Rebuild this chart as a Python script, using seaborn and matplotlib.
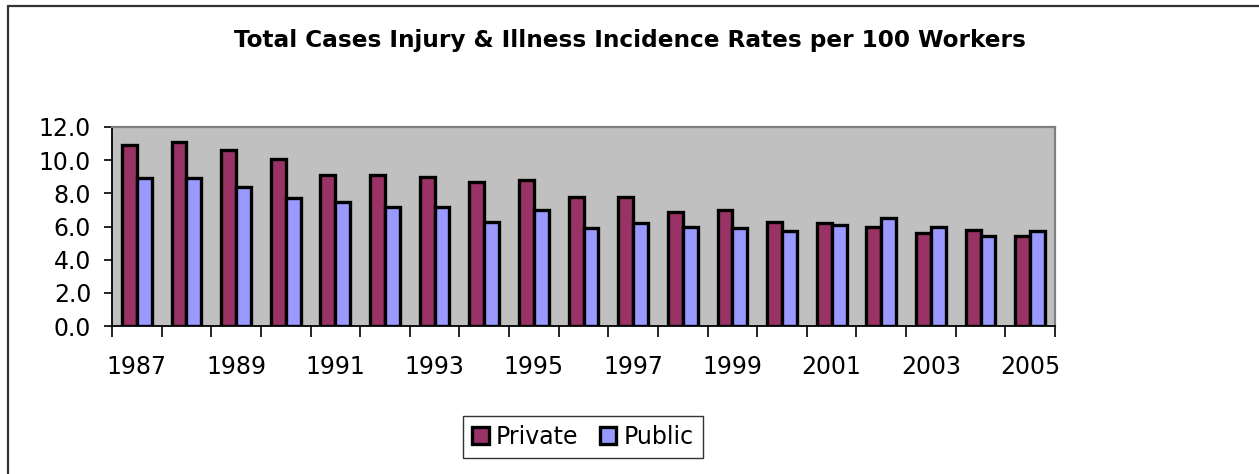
import matplotlib
matplotlib.use('Agg')
import matplotlib.pyplot as plt
from matplotlib.lines import Line2D
from matplotlib.patches import Patch
import numpy as np
import pandas as pd
import seaborn as sns

years = [str(y) for y in range(1987, 2006)]
private_rates = [10.9, 11.1, 10.6, 10.1, 9.1, 9.1, 9.0, 8.7, 8.8, 7.8,
                 7.8, 6.9, 7.0, 6.3, 6.2, 6.0, 5.6, 5.8, 5.4]
public_rates = [8.9, 8.9, 8.4, 7.7, 7.5, 7.2, 7.2, 6.3, 7.0, 5.9,
                6.2, 6.0, 5.9, 5.7, 6.1, 6.5, 6.0, 5.4, 5.7]
series_names = ['Private', 'Public']
series_colors = ['#993366', '#9999FF']
title = 'Total Cases Injury & Illness Incidence Rates per 100 Workers'

df = pd.DataFrame({
    'Year': years * 2,
    'Rate': private_rates + public_rates,
    'Sector': [series_names[0]] * len(years) + [series_names[1]] * len(years),
})

sns.set_style('white')
plt.rcParams['font.family'] = ['DejaVu Sans']
plt.rcParams['text.color'] = 'black'
plt.rcParams['xtick.labelcolor'] = 'black'
plt.rcParams['ytick.labelcolor'] = 'black'

W, H = 1259, 474
fig = plt.figure(figsize=(W / 100, H / 100), dpi=100)
ax = fig.add_axes([112 / W, 1 - 326 / H, (1055 - 112) / W, (326 - 127) / H])
ax.set_facecolor('#C0C0C0')

sns.barplot(data=df, x='Year', y='Rate', hue='Sector', order=years,
            hue_order=series_names, palette=series_colors, saturation=1,
            width=0.6, edgecolor='black', linewidth=2.4, legend=False, ax=ax)

ax.set_xlim(-0.5, len(years) - 0.5)
ax.set_ylim(0, 12)
ax.set_xlabel('')
ax.set_ylabel('')

# tick marks between categories, labels on every other year
ax.set_xticks(np.arange(-0.5, len(years), 1.0))
ax.set_xticklabels([])
ax.tick_params(axis='x', which='major', direction='out', length=8, width=1.2,
               color='black', bottom=True)
ax.set_xticks(np.arange(0, len(years), 2), minor=True)
ax.set_xticklabels(years[::2], minor=True)
ax.tick_params(axis='x', which='minor', length=0, pad=21, labelsize=17,
               labelcolor='black')

ax.set_yticks(np.arange(0, 13, 2))
ax.set_yticklabels([f'{v:.1f}' for v in np.arange(0, 13, 2)])
ax.tick_params(axis='y', direction='out', length=6, width=1.2, color='black',
               left=True, pad=9, labelsize=17, labelcolor='black')

for side in ['left', 'bottom']:
    ax.spines[side].set_color('black')
    ax.spines[side].set_linewidth(1.3)
for side in ['top', 'right']:
    ax.spines[side].set_color('#808080')
    ax.spines[side].set_linewidth(1.6)

fig.text(630 / W, 1 - 40 / H, title, ha='center', va='center',
         fontsize=16.7, fontweight='bold', color='black')

handles = [Patch(facecolor=c, edgecolor='black', linewidth=2.4) for c in series_colors]
leg = fig.legend(handles, series_names, loc='center', bbox_to_anchor=(583 / W, 1 - 437 / H),
                 ncol=2, frameon=True, fancybox=False, fontsize=17,
                 handlelength=0.7, handleheight=0.7, handletextpad=0.3,
                 columnspacing=0.9, borderpad=0.4, borderaxespad=0)
leg.get_frame().set_edgecolor('black')
leg.get_frame().set_linewidth(1.0)

# chart area border (top and left edges visible)
fig.add_artist(Line2D([8 / W, 1.0], [1 - 6 / H, 1 - 6 / H], transform=fig.transFigure,
                      color='#333333', linewidth=1.6))
fig.add_artist(Line2D([8 / W, 8 / W], [1 - 6 / H, 0.0], transform=fig.transFigure,
                      color='#333333', linewidth=1.6))

fig.savefig('out.png', dpi=100)
